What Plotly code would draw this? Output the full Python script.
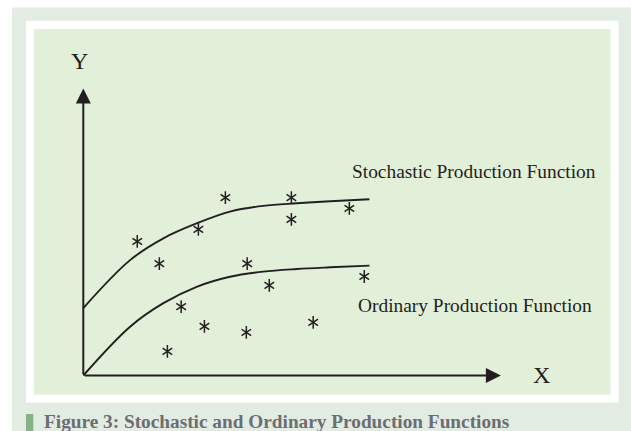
import plotly.graph_objects as go

# ---- data (abstract units: X input, Y output) ----
curve_x = [0, 1.63, 2.79, 3.95, 5.11, 6.27, 7.44, 8.60, 9.97]
stochastic_y = [2.35, 4.02, 4.78, 5.30, 5.71, 5.91, 6.00, 6.07, 6.14]
ordinary_y = [0, 1.70, 2.52, 3.09, 3.44, 3.62, 3.71, 3.77, 3.83]

obs_x = [1.88, 2.65, 4.01, 4.95, 7.25, 7.25, 9.27, 5.71, 6.48, 9.79, 3.41, 4.22, 5.68, 8.01, 2.93]
obs_y = [4.67, 3.90, 5.09, 6.20, 6.20, 5.44, 5.82, 3.90, 3.14, 3.45, 2.40, 1.71, 1.50, 1.85, 0.84]

axis_x_max = 14.55
axis_y_max = 10.0

label_stochastic = "Stochastic Production Function"
label_ordinary = "Ordinary Production Function"
caption = "Figure 3: Stochastic and Ordinary Production Functions"

W, H = 631, 431
ORIG_PX, ORIG_PY, UNIT = 83.3, 375.5, 28.7
INK = "#231f20"
SERIF = "Liberation Serif, Times New Roman, serif"

fig = go.Figure()

for ys in (stochastic_y, ordinary_y):
    fig.add_trace(go.Scatter(x=curve_x, y=ys, mode="lines",
                             line=dict(color=INK, width=1.9, shape="spline", smoothing=1.0),
                             hoverinfo="skip", showlegend=False))

for sym in ("y-up-open", "y-down-open"):
    fig.add_trace(go.Scatter(x=obs_x, y=obs_y, mode="markers",
                             marker=dict(symbol=sym, size=8, color=INK,
                                         line=dict(color=INK, width=1.5)),
                             hoverinfo="skip", showlegend=False))

def px(p):
    return p / W

def py(p):
    return 1 - p / H

shapes = [
    dict(type="rect", xref="paper", yref="paper", x0=px(12), x1=px(631), y0=py(431), y1=py(7.5),
         fillcolor="#e3ece2", line=dict(width=0), layer="below"),
    dict(type="rect", xref="paper", yref="paper", x0=px(26), x1=px(618.5), y0=py(402.5), y1=py(20.7),
         fillcolor="#ffffff", line=dict(width=0), layer="below"),
    dict(type="rect", xref="paper", yref="paper", x0=px(34), x1=px(610.5), y0=py(394.5), y1=py(29),
         fillcolor="#e2efd9", line=dict(width=0), layer="below"),
    dict(type="rect", xref="paper", yref="paper", x0=px(26), x1=px(33.3), y0=py(431), y1=py(414),
         fillcolor="#86b386", line=dict(width=0), layer="below"),
]

annotations = [
    # axes arrows
    dict(x=0, y=axis_y_max, ax=0, ay=0, xref="x", yref="y", axref="x", ayref="y",
         text="", showarrow=True, arrowhead=2, arrowsize=1.5, arrowwidth=2, arrowcolor=INK),
    dict(x=axis_x_max, y=0, ax=0, ay=0, xref="x", yref="y", axref="x", ayref="y",
         text="", showarrow=True, arrowhead=2, arrowsize=1.5, arrowwidth=2, arrowcolor=INK),
    dict(x=(79 - ORIG_PX) / UNIT, y=(ORIG_PY - 60.5) / UNIT, xref="x", yref="y", text="Y",
         showarrow=False, xanchor="center", yanchor="middle", font=dict(family=SERIF, size=24, color=INK)),
    dict(x=(541.5 - ORIG_PX) / UNIT, y=(ORIG_PY - 374.5) / UNIT, xref="x", yref="y", text="X",
         showarrow=False, xanchor="center", yanchor="middle", font=dict(family=SERIF, size=24, color=INK)),
    dict(x=(349.5 - ORIG_PX) / UNIT, y=(ORIG_PY - 171) / UNIT, xref="x", yref="y", text=label_stochastic,
         showarrow=False, xanchor="left", yanchor="middle", font=dict(family=SERIF, size=19.4, color=INK)),
    dict(x=(355.5 - ORIG_PX) / UNIT, y=(ORIG_PY - 305.5) / UNIT, xref="x", yref="y", text=label_ordinary,
         showarrow=False, xanchor="left", yanchor="middle", font=dict(family=SERIF, size=19.4, color=INK)),
    dict(x=px(41.5), y=py(421.3), xref="paper", yref="paper", text="<b>" + caption + "</b>",
         showarrow=False, xanchor="left", yanchor="middle", font=dict(family=SERIF, size=19.3, color="#6b6e72")),
]

fig.update_layout(
    width=W, height=H, autosize=False,
    margin=dict(l=0, r=0, t=0, b=0, pad=0),
    paper_bgcolor="#ffffff", plot_bgcolor="rgba(0,0,0,0)",
    xaxis=dict(range=[-ORIG_PX / UNIT, (W - ORIG_PX) / UNIT], visible=False, fixedrange=True),
    yaxis=dict(range=[(ORIG_PY - H) / UNIT, ORIG_PY / UNIT], visible=False, fixedrange=True),
    shapes=shapes, annotations=annotations, showlegend=False,
)

fig.write_html("out.html", config={"displayModeBar": False},
               post_script="document.body.style.margin='0';document.body.style.padding='0';"
                           "document.body.style.overflow='hidden';")
